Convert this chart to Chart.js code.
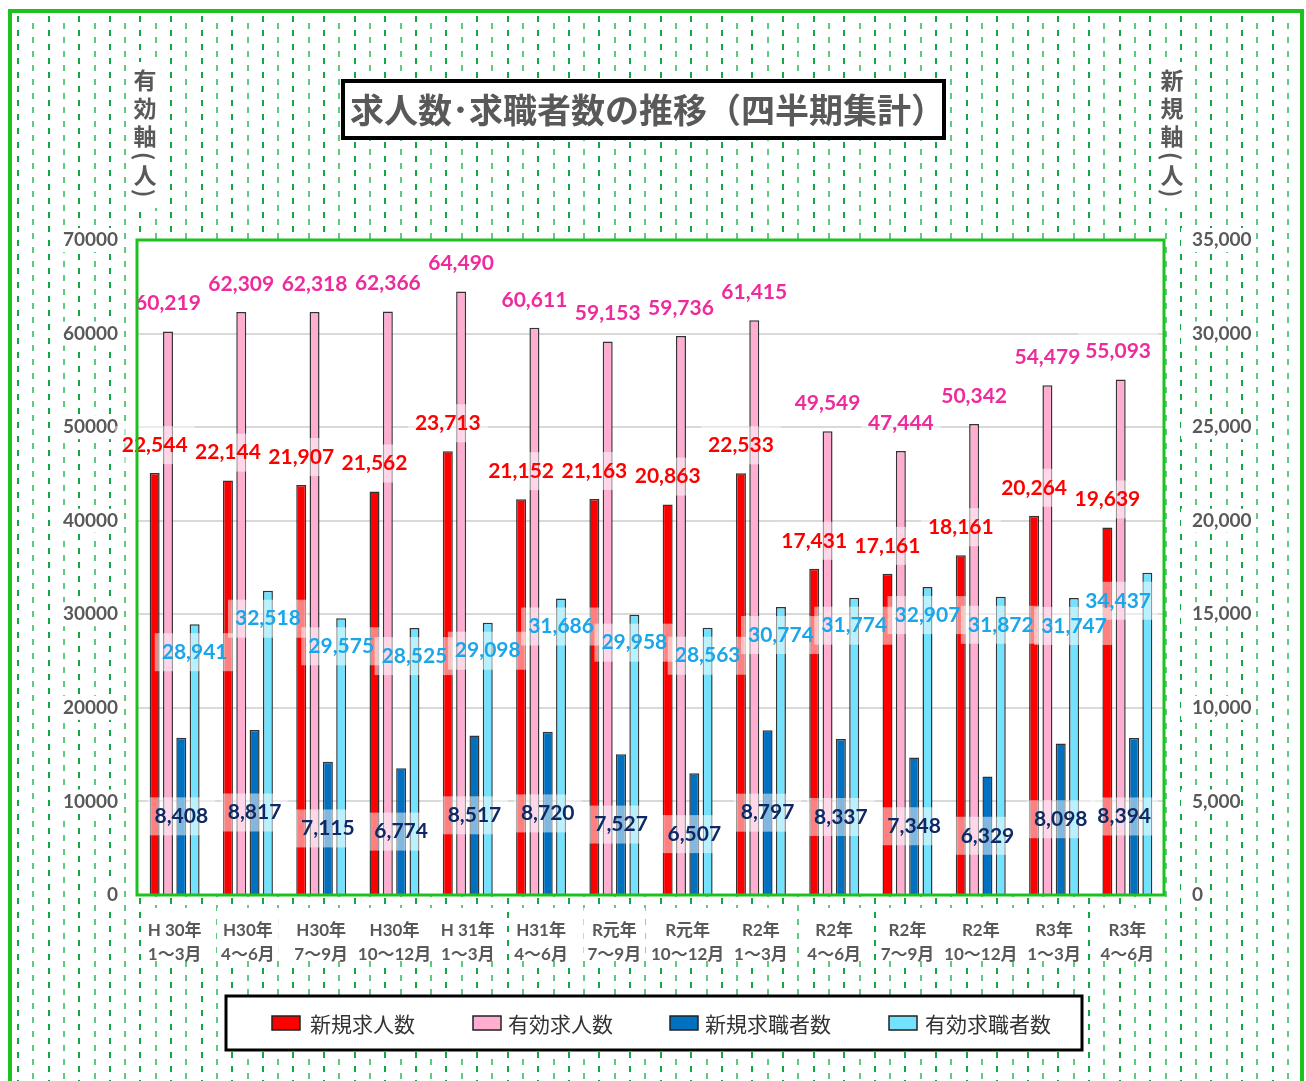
<!DOCTYPE html>
<html lang="ja">
<head>
<meta charset="utf-8">
<title>求人数・求職者数の推移（四半期集計）</title>
<script src="https://cdn.jsdelivr.net/npm/chart.js@4.4.1/dist/chart.umd.min.js"></script>
<style>
    html, body { margin: 0; padding: 0; background: #fff; }
    #chart { display: block; }
</style>
</head>
<body>
<canvas id="chart" width="1306" height="1081"></canvas>
<script>
const quarters = [
    ['H 30年', '1～3月'], ['H30年', '4～6月'], ['H30年', '7～9月'], ['H30年', '10～12月'],
    ['H 31年', '1～3月'], ['H31年', '4～6月'], ['R元年', '7～9月'], ['R元年', '10～12月'],
    ['R2年', '1～3月'], ['R2年', '4～6月'], ['R2年', '7～9月'], ['R2年', '10～12月'],
    ['R3年', '1～3月'], ['R3年', '4～6月']
];
const newJobs = [22544, 22144, 21907, 21562, 23713, 21152, 21163, 20863, 22533, 17431, 17161, 18161, 20264, 19639];
const activeJobs = [60219, 62309, 62318, 62366, 64490, 60611, 59153, 59736, 61415, 49549, 47444, 50342, 54479, 55093];
const newSeekers = [8408, 8817, 7115, 6774, 8517, 8720, 7527, 6507, 8797, 8337, 7348, 6329, 8098, 8394];
const activeSeekers = [28941, 32518, 29575, 28525, 29098, 31686, 29958, 28563, 30774, 31774, 32907, 31872, 31747, 34437];
const leftTicks = [0, 10000, 20000, 30000, 40000, 50000, 60000, 70000];
const rightTicks = [0, 5000, 10000, 15000, 20000, 25000, 30000, 35000];

const NUM = "Lato, 'Noto Sans CJK JP', sans-serif";
const JP = "'Noto Sans CJK JP', sans-serif";
const GRAY = '#595959';
const GREEN = '#1ec21e';

// label style per dataset: colour and where it sits relative to the bar
const labelStyle = [
    { color: '#ff0000', place: 'above' },
    { color: '#ee2a9c', place: 'above' },
    { color: '#0e2a66', place: 'middle' },
    { color: '#19a6ea', place: 'inside' }
];

function whiteBox(ctx, x, y, w, h) {
    ctx.fillStyle = '#fff';
    ctx.fillRect(x, y, w, h);
}

const backdrop = {
    id: 'backdrop',
    beforeDraw(chart) {
        const ctx = chart.ctx;
        const W = chart.width, H = chart.height;
        ctx.save();
        whiteBox(ctx, 0, 0, W, H);

        // dashed green pattern
        for (let i = 0; ; i++) {
            const x = 17 + i * 15.3;
            if (x > 1296) break;
            ctx.fillStyle = i % 2 ? '#62c985' : '#14a845';
            const off = i % 2 ? 7 : 0;
            for (let y = 16 + off; y < H; y += 14) {
                ctx.fillRect(Math.round(x), y, 2, 6);
            }
        }

        const a = chart.chartArea;
        whiteBox(ctx, a.left, a.top, a.right - a.left, a.bottom - a.top);

        // boxes behind the tick labels
        const yL = chart.scales.yL, yR = chart.scales.yR, xs = chart.scales.x;
        ctx.font = 'bold 19px ' + NUM;
        leftTicks.forEach(v => {
            const t = String(v);
            const w = ctx.measureText(t).width;
            whiteBox(ctx, 118 - w - 3, yL.getPixelForValue(v) - 12, w + 6, 24);
        });
        rightTicks.forEach(v => {
            const t = v.toLocaleString('en-US');
            const w = ctx.measureText(t).width;
            whiteBox(ctx, 1184 - 3, yR.getPixelForValue(v) - 12, w + 6, 24);
        });
        ctx.font = 'bold 17px ' + NUM;
        quarters.forEach((q, i) => {
            const w = Math.max(ctx.measureText(q[0]).width, ctx.measureText(q[1]).width);
            whiteBox(ctx, xs.getPixelForValue(i) - w / 2 - 4, 908, w + 8, 52);
        });

        // title
        whiteBox(ctx, 343, 81, 601, 57);
        ctx.lineWidth = 4;
        ctx.strokeStyle = '#000';
        ctx.strokeRect(343, 81, 601, 57);
        ctx.fillStyle = GRAY;
        ctx.font = 'bold 34px ' + JP;
        ctx.textBaseline = 'middle';
        ctx.textAlign = 'left';
        ctx.fillText('求人数･求職者数の推移（四半期集計）', 350, 110);

        // vertical axis titles, brackets turned upright
        const vert = (chars, cx) => {
            whiteBox(ctx, cx - 17, 62, 34, 146);
            ctx.fillStyle = GRAY;
            ctx.font = 'bold 23px ' + JP;
            ctx.textAlign = 'center';
            ctx.fillText(chars[0], cx, 80);
            ctx.fillText(chars[1], cx, 108);
            ctx.fillText(chars[2], cx, 136);
            ctx.fillText('人', cx, 175);
            [['(', 156], [')', 193]].forEach(([c, y]) => {
                ctx.save();
                ctx.translate(cx, y);
                ctx.rotate(Math.PI / 2);
                ctx.fillText(c, 0, 0);
                ctx.restore();
            });
        };
        vert(['有', '効', '軸'], 145);
        vert(['新', '規', '軸'], 1172);

        // legend
        whiteBox(ctx, 226, 996, 856, 54);
        ctx.lineWidth = 3;
        ctx.strokeStyle = '#000';
        ctx.strokeRect(226, 996, 856, 54);
        const items = [
            { x: 272, tx: 310 }, { x: 473, tx: 508 }, { x: 670, tx: 705 }, { x: 889, tx: 925 }
        ];
        ctx.font = '21px ' + JP;
        ctx.textAlign = 'left';
        chart.data.datasets.forEach((ds, k) => {
            ctx.fillStyle = ds.backgroundColor;
            ctx.fillRect(items[k].x, 1016, 28, 14);
            ctx.lineWidth = 1.5;
            ctx.strokeStyle = '#222';
            ctx.strokeRect(items[k].x, 1016, 28, 14);
            ctx.fillStyle = '#333';
            ctx.fillText(ds.label, items[k].tx, 1024);
        });

        // outer frame
        ctx.lineWidth = 4;
        ctx.strokeStyle = GREEN;
        ctx.strokeRect(10, 11, 1292, 1100);
        ctx.restore();
    },
    afterDraw(chart) {
        const a = chart.chartArea;
        const ctx = chart.ctx;
        ctx.save();
        ctx.lineWidth = 3;
        ctx.strokeStyle = GREEN;
        ctx.strokeRect(a.left - 1, a.top, a.right - a.left + 1, a.bottom - a.top);
        ctx.restore();
    }
};

const valueLabels = {
    id: 'valueLabels',
    afterDatasetsDraw(chart) {
        const ctx = chart.ctx;
        const a = chart.chartArea;
        ctx.save();
        ctx.font = 'bold 21px ' + NUM;
        ctx.textAlign = 'center';
        ctx.textBaseline = 'middle';
        const list = [];
        chart.data.datasets.forEach((ds, k) => {
            const meta = chart.getDatasetMeta(k);
            meta.data.forEach((bar, i) => {
                const text = ds.data[i].toLocaleString('en-US');
                const w = ctx.measureText(text).width;
                let y;
                if (labelStyle[k].place === 'above') y = bar.y - 28;
                else if (labelStyle[k].place === 'middle') y = (bar.y + bar.base) / 2;
                else y = bar.y + 28;
                let x = bar.x;
                if (x + w / 2 + 7 > a.right - 6) x = a.right - 6 - 7 - w / 2;
                list.push({ x, y, w, text, color: labelStyle[k].color });
            });
        });
        ctx.fillStyle = 'rgba(255,255,255,0.5)';
        list.forEach(l => ctx.fillRect(l.x - l.w / 2 - 7, l.y - 19, l.w + 14, 38));
        list.forEach(l => {
            ctx.fillStyle = l.color;
            ctx.fillText(l.text, l.x, l.y);
        });
        ctx.restore();
    }
};

const barBase = {
    borderColor: '#333',
    borderWidth: 1.5,
    categoryPercentage: 0.727,
    barPercentage: 0.75
};

function init() {
    const ctx = document.getElementById('chart').getContext('2d');
    new Chart(ctx, {
        type: 'bar',
        data: {
            labels: quarters,
            datasets: [
                { ...barBase, label: '新規求人数', data: newJobs, backgroundColor: '#ff0000', yAxisID: 'yR' },
                { ...barBase, label: '有効求人数', data: activeJobs, backgroundColor: '#ffaed2', yAxisID: 'yL' },
                { ...barBase, label: '新規求職者数', data: newSeekers, backgroundColor: '#0070c0', yAxisID: 'yR' },
                { ...barBase, label: '有効求職者数', data: activeSeekers, backgroundColor: '#72e2ff', yAxisID: 'yL' }
            ]
        },
        options: {
            responsive: false,
            animation: false,
            devicePixelRatio: 1,
            layout: { padding: { top: 240, left: 0, right: 0, bottom: 0 } },
            plugins: {
                legend: { display: false },
                title: { display: false },
                tooltip: { enabled: false }
            },
            scales: {
                x: {
                    grid: { display: false },
                    border: { display: false },
                    ticks: {
                        color: GRAY,
                        font: { family: NUM, size: 17, weight: 'bold', lineHeight: 1.45 },
                        padding: 15,
                        maxRotation: 0,
                        autoSkip: false
                    },
                    afterFit: s => { s.height = 186; }
                },
                yL: {
                    position: 'left',
                    min: 0,
                    max: 70000,
                    grid: { color: '#d9d9d9', lineWidth: 2, drawTicks: false },
                    border: { display: false },
                    ticks: {
                        stepSize: 10000,
                        color: GRAY,
                        font: { family: NUM, size: 19, weight: 'bold' },
                        padding: 20,
                        callback: v => String(v)
                    },
                    afterFit: s => { s.width = 138; }
                },
                yR: {
                    position: 'right',
                    min: 0,
                    max: 35000,
                    grid: { display: false },
                    border: { display: false },
                    ticks: {
                        stepSize: 5000,
                        color: GRAY,
                        font: { family: NUM, size: 19, weight: 'bold' },
                        padding: 20,
                        callback: v => v.toLocaleString('en-US')
                    },
                    afterFit: s => { s.width = 142; }
                }
            }
        },
        plugins: [backdrop, valueLabels]
    });
}

if (document.readyState === 'loading') {
    document.addEventListener('DOMContentLoaded', init);
} else {
    init();
}
</script>
</body>
</html>
